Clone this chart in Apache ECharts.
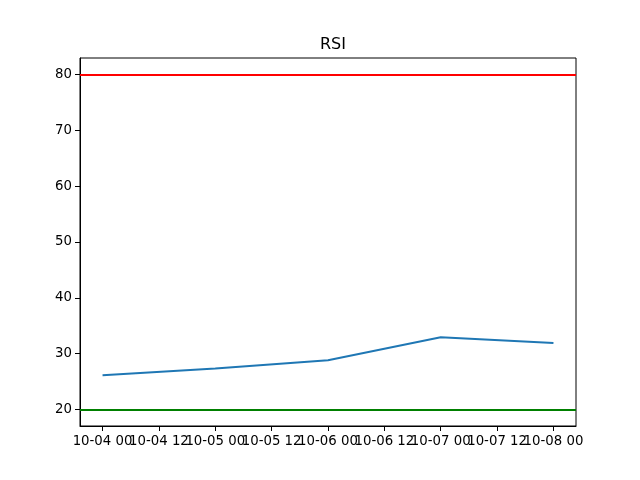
<!DOCTYPE html>
<html>
<head>
<meta charset="utf-8">
<script src="https://cdn.jsdelivr.net/npm/echarts@6/dist/echarts.min.js"></script>
<style>
  html, body { margin: 0; padding: 0; background: #fff; }
  #chart { width: 640px; height: 480px; }
</style>
</head>
<body>
<div id="chart"></div>
<script>
// data
const days = [4, 5, 6, 7, 8]            // October, at 00:00
const rsi = [26.1, 27.3, 28.8, 32.9, 31.9]
const overbought = 80
const oversold = 20
const yTicks = [20, 30, 40, 50, 60, 70, 80]

// x is hours since 10-04 00
const hours = days.map(d => (d - days[0]) * 24)
const span = hours[hours.length - 1] - hours[0]
const xMin = -span * 0.05
const xMax = span * 1.05
// midnight ticks and noon ticks go on two stacked axes so ECharts
// does not drop the overlapping neighbours of the first/last label
const midnightTicks = hours.slice()
const noonTicks = hours.slice(0, -1).map(h => h + 12)
const pad = n => String(n).padStart(2, '0')
const fmtHour = h => {
  const d = days[0] + Math.floor(h / 24)
  return '10-' + pad(d) + ' ' + pad(Math.round(h % 24))
}

const chart = echarts.init(document.getElementById('chart'))
const font = 'DejaVu Sans'

function makeXAxis (ticks, showLine) {
  return {
    type: 'value',
    gridIndex: 0,
    position: 'bottom',
    min: xMin,
    max: xMax,
    axisLine: { show: showLine, onZero: false, lineStyle: { color: '#000', width: 1 } },
    axisTick: { show: true, length: 5, lineStyle: { color: '#000' }, customValues: ticks },
    splitLine: { show: false },
    axisLabel: {
      customValues: ticks,
      hideOverlap: false,
      showMinLabel: true,
      showMaxLabel: true,
      margin: 9,
      fontFamily: font, fontSize: 13.3, color: '#000',
      formatter: v => fmtHour(v)
    }
  }
}

const option = {
  animation: false,
  backgroundColor: '#fff',
  title: {
    text: 'RSI',
    left: 328,
    top: 32,
    textAlign: 'center',
    textStyle: { fontFamily: font, fontSize: 16, fontWeight: 'normal', color: '#000' }
  },
  grid: {
    left: 80, right: 64, top: 58, bottom: 54,
    show: true, borderColor: '#000', borderWidth: 1, backgroundColor: 'transparent'
  },
  xAxis: [
    makeXAxis(midnightTicks, true),
    makeXAxis(noonTicks, false)
  ],
  yAxis: {
    type: 'value',
    min: 17,
    max: 83,
    axisLine: { show: true, onZero: false, lineStyle: { color: '#000', width: 1 } },
    axisTick: { show: true, length: 5, lineStyle: { color: '#000' }, customValues: yTicks },
    splitLine: { show: false },
    axisLabel: { customValues: yTicks, margin: 8, fontFamily: font, fontSize: 13.3, color: '#000' }
  },
  series: [
    {
      name: 'RSI',
      type: 'line',
      xAxisIndex: 0,
      data: hours.map((h, i) => [h, rsi[i]]),
      showSymbol: false,
      lineStyle: { color: '#1f77b4', width: 2 },
      markLine: {
        silent: true,
        symbol: ['none', 'none'],
        label: { show: false },
        data: [
          { yAxis: overbought, lineStyle: { color: '#ff0000', width: 2, type: 'solid' } },
          { yAxis: oversold, lineStyle: { color: '#008000', width: 2, type: 'solid' } }
        ]
      }
    }
  ]
}
chart.setOption(option)
</script>
</body>
</html>
